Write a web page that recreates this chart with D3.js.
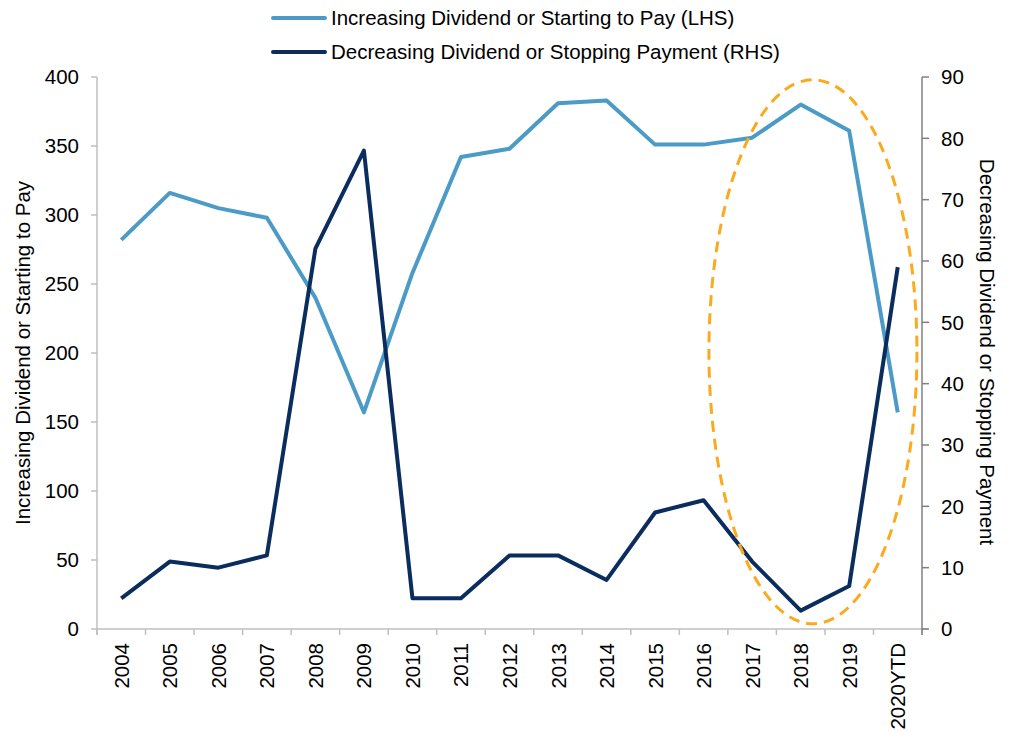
<!DOCTYPE html>
<html><head><meta charset="utf-8">
<script src="https://cdn.jsdelivr.net/npm/d3@7"></script>
<style>body{margin:0;background:#fff;} text{font-family:"Liberation Sans",Arial,sans-serif;fill:#000;}</style>
</head><body>
<svg id="c" width="1010" height="731"></svg>
<script>
const categories = ["2004","2005","2006","2007","2008","2009","2010","2011","2012","2013","2014","2015","2016","2017","2018","2019","2020YTD"];
const increasing = [282,316,305,298,240,157,258,342,348,381,383,351,351,356,380,361,157];
const decreasing = [5,11,10,12,62,78,5,5,12,12,8,19,21,11,3,7,59];
const leftTicks = [0,50,100,150,200,250,300,350,400];
const rightTicks = [0,10,20,30,40,50,60,70,80,90];
const seriesNames = ["Increasing Dividend or Starting to Pay (LHS)","Decreasing Dividend or Stopping Payment (RHS)"];
const colors = ["#4b9bc6","#0a2d5e"];

const svg = d3.select("#c");
const L = 97, R = 922, T = 77, B = 629;
const FS = 20.5;
const x = d3.scaleBand().domain(categories).range([L, R]);
const yL = d3.scaleLinear().domain([0,400]).range([B, T]);
const yR = d3.scaleLinear().domain([0,90]).range([B, T]);

// x axis
const xg = svg.append("g").attr("transform",`translate(0,${B})`);
xg.append("line").attr("x1",L).attr("x2",R+6).attr("stroke","#bfbfbf").attr("stroke-width",1.5);
const bounds = d3.range(categories.length+1).map(i => L + i*x.step());
xg.selectAll("line.t").data(bounds).join("line").attr("class","t")
  .attr("x1",d=>d).attr("x2",d=>d).attr("y1",0).attr("y2",6).attr("stroke","#bfbfbf").attr("stroke-width",1.5);
xg.selectAll("text").data(categories).join("text")
  .attr("transform",d=>`translate(${x(d)+x.bandwidth()/2+7.5},${14}) rotate(-90)`)
  .attr("text-anchor","end").attr("font-size",FS).text(d=>d);

// left axis
const lg = svg.append("g");
lg.append("line").attr("x1",L).attr("x2",L).attr("y1",T).attr("y2",B+6).attr("stroke","#bfbfbf").attr("stroke-width",1.5);
lg.selectAll("line.t").data(leftTicks).join("line").attr("class","t")
  .attr("x1",L-6).attr("x2",L).attr("y1",d=>yL(d)).attr("y2",d=>yL(d)).attr("stroke","#bfbfbf").attr("stroke-width",1.5);
lg.selectAll("text").data(leftTicks).join("text")
  .attr("x",79).attr("y",d=>yL(d)).attr("dy","0.35em").attr("text-anchor","end").attr("font-size",FS).text(d=>d);
svg.append("text").attr("transform",`translate(30,353) rotate(-90)`).attr("text-anchor","middle").attr("font-size",FS)
  .text("Increasing Dividend or Starting to Pay");

// right axis
const rg = svg.append("g");
rg.append("line").attr("x1",R).attr("x2",R).attr("y1",T).attr("y2",B+6).attr("stroke","#808080").attr("stroke-width",1.5);
rg.selectAll("line.t").data(rightTicks).join("line").attr("class","t")
  .attr("x1",R).attr("x2",R+7).attr("y1",d=>yR(d)).attr("y2",d=>yR(d)).attr("stroke","#808080").attr("stroke-width",1.5);
rg.selectAll("text").data(rightTicks).join("text")
  .attr("x",941).attr("y",d=>yR(d)).attr("dy","0.35em").attr("text-anchor","start").attr("font-size",FS).text(d=>d);
svg.append("text").attr("transform",`translate(980,352) rotate(90)`).attr("text-anchor","middle").attr("font-size",FS)
  .text("Decreasing Dividend or Stopping Payment");

// lines
const cx = d => x(d)+x.bandwidth()/2;
svg.append("path").datum(categories.map((c,i)=>[cx(c), yL(increasing[i])]))
  .attr("d", d3.line()).attr("fill","none").attr("stroke",colors[0]).attr("stroke-width",4).attr("stroke-linejoin","round");
svg.append("path").datum(categories.map((c,i)=>[cx(c), yR(decreasing[i])]))
  .attr("d", d3.line()).attr("fill","none").attr("stroke",colors[1]).attr("stroke-width",4).attr("stroke-linejoin","round");

// highlight ellipse
svg.append("ellipse").attr("cx",(cx("2018")+cx("2019"))/2 - 12).attr("cy",yR(45.2)).attr("rx",104).attr("ry",272)
  .attr("fill","none").attr("stroke","#fbaa1f").attr("stroke-width",3).attr("stroke-dasharray","11,7");

// legend
const lgd = svg.append("g");
seriesNames.forEach((n,i)=>{
  const yy = 18 + i*34;
  lgd.append("line").attr("x1",273).attr("x2",325).attr("y1",yy).attr("y2",yy).attr("stroke",colors[i]).attr("stroke-width",4).attr("stroke-linecap","round");
  lgd.append("text").attr("x",331).attr("y",yy).attr("dy","0.35em").attr("font-size",FS).text(n);
});
</script>
</body></html>
